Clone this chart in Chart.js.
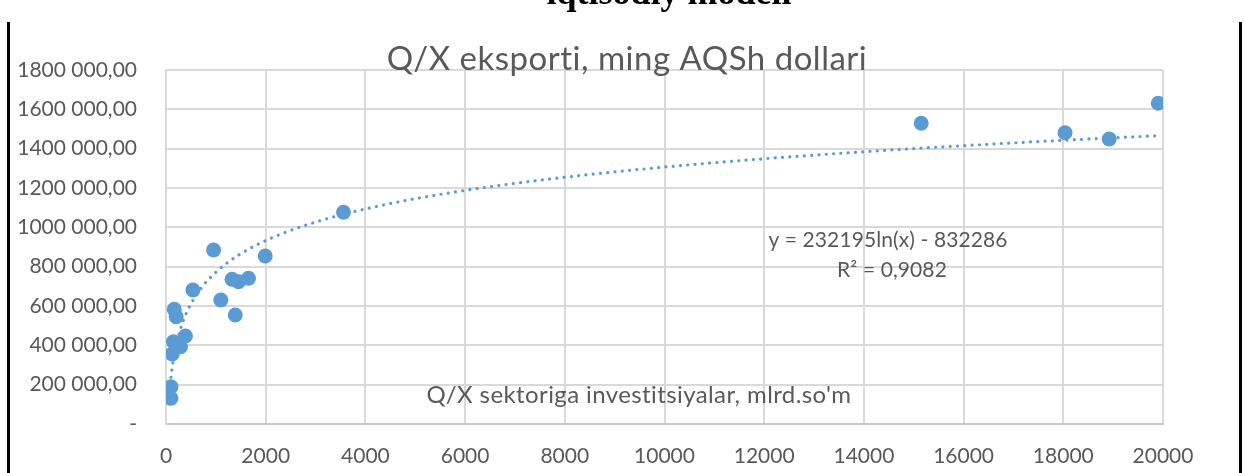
<!DOCTYPE html>
<html>
<head>
<meta charset="utf-8">
<script src="https://cdn.jsdelivr.net/npm/chart.js@4"></script>
<style>
  html, body { margin: 0; padding: 0; background: #fff; }
  #wrap { position: relative; width: 1245px; height: 473px; overflow: hidden; }
  #c { position: absolute; left: 0; top: 0; }
  .vline { position: absolute; top: 22px; bottom: 0; width: 3px; background: #000; }
</style>
</head>
<body>
<div id="wrap">
  <canvas id="c" width="1245" height="473"></canvas>
  <div class="vline" style="left:7px"></div>
  <div class="vline" style="left:1239px"></div>
</div>
<script>
// ---- data ----
const investX = [100, 100, 125, 150, 290, 390, 165, 205, 540, 955, 1100, 1390, 1325, 1455, 1655, 1990, 3560, 15150, 18035, 18920, 19905];
const exportY = [130700, 189700, 356000, 418500, 393000, 447500, 583000, 545600, 681400, 884800, 630600, 554300, 735800, 723700, 741000, 854300, 1076500, 1529000, 1481000, 1449000, 1631000];
const yTickLabels = ['-', '200 000,00', '400 000,00', '600 000,00', '800 000,00', '1000 000,00', '1200 000,00', '1400 000,00', '1600 000,00', '1800 000,00'];
const xTickLabels = ['0', '2000', '4000', '6000', '8000', '10000', '12000', '14000', '16000', '18000', '20000'];
const trendA = 232195;   // from printed equation y = a ln(x) + b
const trendB = -832286;
const chartTitle = 'Q/X eksporti, ming AQSh dollari';
const xAxisTitle = "Q/X sektoriga investitsiyalar, mlrd.so'm";
const eqText = 'y = 232195ln(x) - 832286';
const r2Text = 'R² = 0,9082';
const pageHeading = 'iqtisodiy modeli';

const points = investX.map((x, i) => ({ x: x, y: exportY[i] }));
const xmin = Math.min(...investX), xmax = Math.max(...investX);
const trend = [];
const N = 400;
for (let i = 0; i <= N; i++) {
  const x = xmin * Math.pow(xmax / xmin, i / N);
  trend.push({ x: x, y: trendA * Math.log(x) + trendB });
}

const FONT = 'Lato, "Open Sans", sans-serif';
const GREY = '#595959';

const textPlugin = {
  id: 'texts',
  afterDraw(chart) {
    const ctx = chart.ctx;
    ctx.save();
    ctx.fillStyle = GREY;
    ctx.textBaseline = 'alphabetic';
    ctx.textAlign = 'center';
    ctx.letterSpacing = '0.5px';
    ctx.font = '33px ' + FONT;
    ctx.fillText(chartTitle, 627, 70);
    ctx.letterSpacing = '0.4px';
    ctx.font = '24px ' + FONT;
    ctx.fillText(xAxisTitle, 639, 403);
    ctx.letterSpacing = '0.1px';
    ctx.font = '21px ' + FONT;
    ctx.fillText(eqText, 888, 247);
    ctx.fillText(r2Text, 892, 277);
    ctx.letterSpacing = '0px';
    ctx.fillStyle = '#000';
    ctx.font = 'bold 36px "Liberation Serif", "DejaVu Serif", serif';
    ctx.fillText(pageHeading, 669, 4);
    ctx.restore();
  }
};

new Chart(document.getElementById('c'), {
  type: 'scatter',
  data: {
    datasets: [
      {
        type: 'line',
        data: trend,
        borderColor: '#5B9BD5',
        borderWidth: 3.2,
        borderDash: [0.01, 7.3],
        borderCapStyle: 'round',
        pointRadius: 0,
        fill: false,
        tension: 0
      },
      {
        data: points,
        backgroundColor: '#5B9BD5',
        borderColor: '#5B9BD5',
        pointRadius: 7.5,
        pointHoverRadius: 7.5,
        borderWidth: 0
      }
    ]
  },
  options: {
    responsive: false,
    animation: false,
    devicePixelRatio: 1,
    layout: { padding: { left: 0, right: 82, top: 70, bottom: 0 } },
    plugins: { legend: { display: false }, tooltip: { enabled: false }, title: { display: false } },
    scales: {
      x: {
        type: 'linear',
        min: 0, max: 20000,
        ticks: {
          stepSize: 2000,
          color: GREY,
          font: { family: FONT, size: 21 },
          padding: 20,
          maxRotation: 0,
          autoSkip: false,
          callback: (v, i) => xTickLabels[i]
        },
        grid: { color: '#D9D9D9', lineWidth: 2, drawTicks: false },
        border: { color: '#C8C8C8', width: 2 },
        afterFit: (s) => { s.height = 49; }
      },
      y: {
        min: 0, max: 1800000,
        ticks: {
          stepSize: 200000,
          color: GREY,
          font: { family: FONT, size: 21 },
          padding: 29,
          autoSkip: false,
          callback: (v, i) => yTickLabels[i]
        },
        grid: { color: '#D9D9D9', lineWidth: 2, drawTicks: false },
        border: { color: '#D9D9D9', width: 2 },
        afterFit: (s) => { s.width = 166; }
      }
    }
  },
  plugins: [textPlugin]
});
</script>
</body>
</html>
